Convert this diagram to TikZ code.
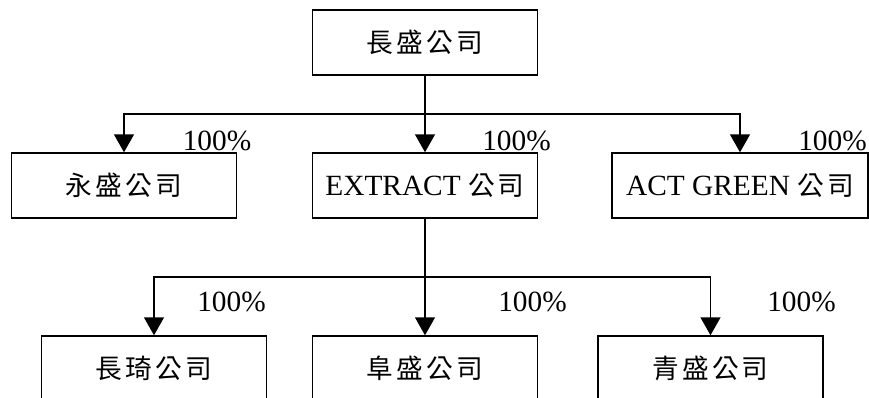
\documentclass[tikz,border=0pt]{standalone}
\usepackage{fontspec}
\setmainfont{Liberation Serif}
\newfontfamily\cjk[LetterSpace=12]{Noto Sans CJK TC}
\usetikzlibrary{arrows.meta}
\newcommand{\zh}[1]{{\fontsize{20pt}{24pt}\cjk #1}}
\tikzset{
  box/.style={draw, line width=1.1pt, minimum width=168.75pt, minimum height=48.75pt, inner sep=0pt},
  own/.style={line width=1.1pt, -{Triangle[width=15pt,length=13.5pt]}},
  pct/.style={inner sep=0pt}
}

\begin{document}
\begin{tikzpicture}[x=0.75pt,y=-0.75pt,font=\fontsize{22pt}{26pt}\selectfont]
    \useasboundingbox (0,0) rectangle (869,397);

    \node[box] (changsheng) at (425,42.5) {\zh{長盛公司}};
    \node[box] (yongsheng) at (124,185.5) {\zh{永盛公司}};
    \node[box] (extract) at (425,185.5) {EXTRACT \zh{公司}};
    \node[box, minimum width=192pt] (actgreen) at (740,185.5) {ACT GREEN \zh{公司}};
    \node[box] (changqi) at (154,368.5) {\zh{長琦公司}};
    \node[box] (fusheng) at (425,368.5) {\zh{阜盛公司}};
    \node[box] (qingsheng) at (710.5,368.5) {\zh{青盛公司}};

    \coordinate (busA) at (425,114);
    \coordinate (busB) at (425,277);

    \draw[own] (changsheng) -- (extract);
    \draw[own] (busA) -| (yongsheng);
    \draw[own] (busA) -| (actgreen);
    \draw[own] (extract) -- (fusheng);
    \draw[own] (busB) -| (changqi);
    \draw[own] (busB) -| (qingsheng);

    \node[pct] (pYong) at (217,140.5) {100\%};
    \node[pct] (pExtract) at (516.5,140.5) {100\%};
    \node[pct] (pAct) at (832.5,140.5) {100\%};
    \node[pct] (pChangqi) at (231.5,302) {100\%};
    \node[pct] (pFu) at (532.5,302) {100\%};
    \node[pct] (pQing) at (801.5,302) {100\%};
  \end{tikzpicture}
\end{document}
